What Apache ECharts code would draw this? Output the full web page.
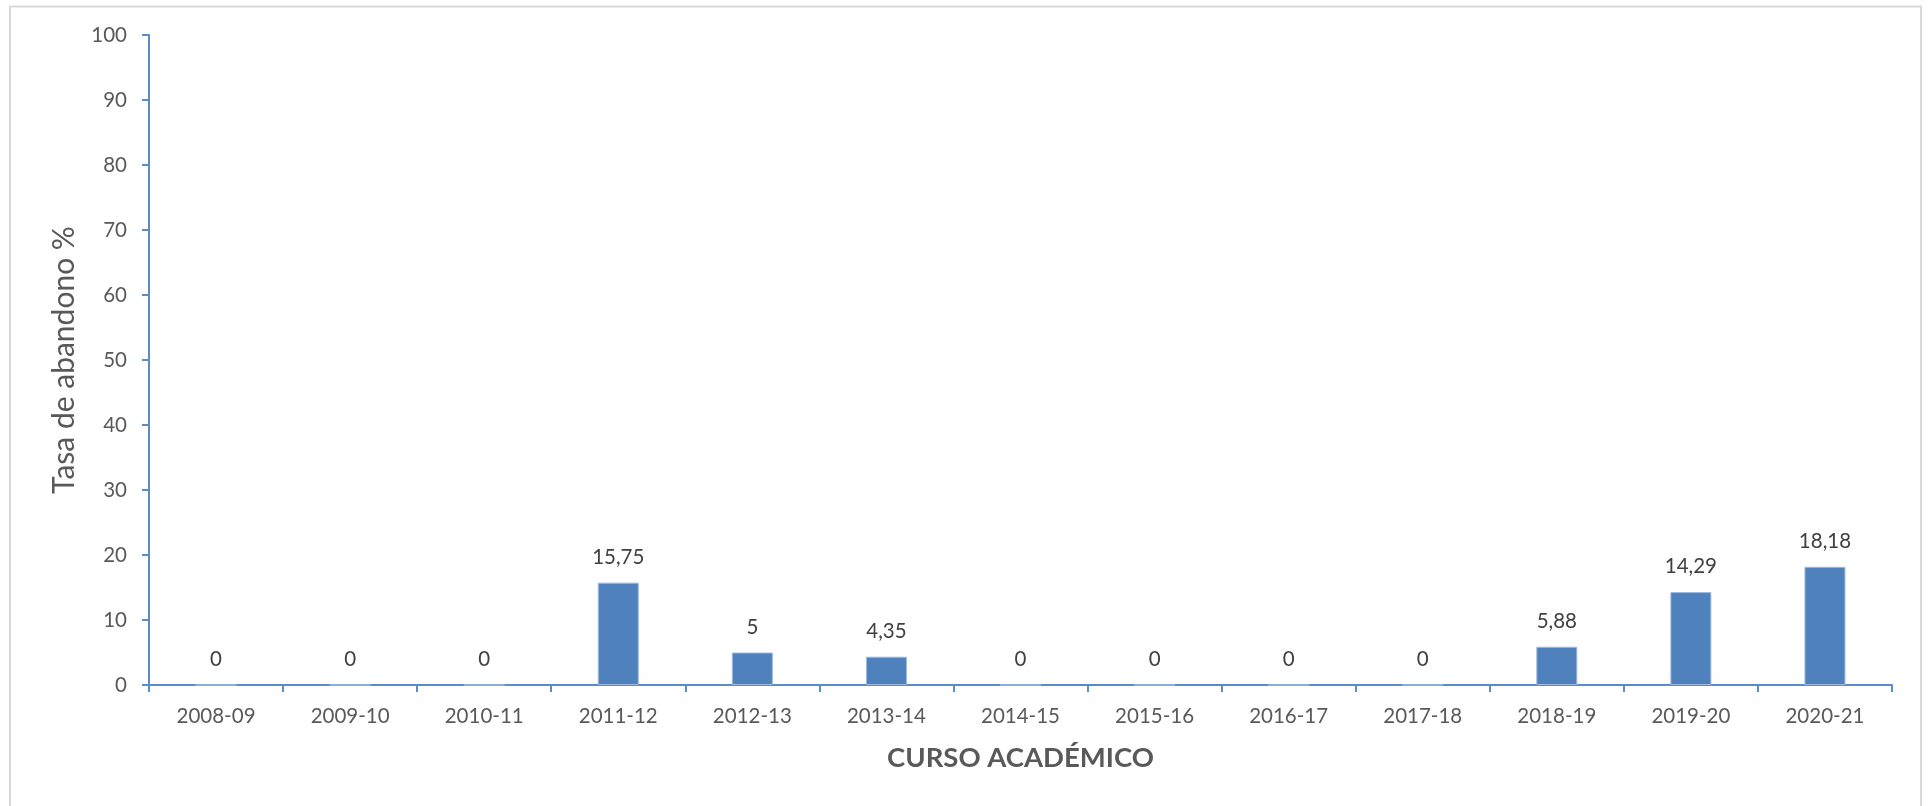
<!DOCTYPE html>
<html>
<head>
<meta charset="utf-8">
<script src="https://cdn.jsdelivr.net/npm/echarts@6/dist/echarts.min.js"></script>
<style>
html,body{margin:0;padding:0;background:#fff;}
#c{width:1930px;height:806px;}
</style>
</head>
<body>
<div id="c"></div>
<script>
const categories = ['2008-09','2009-10','2010-11','2011-12','2012-13','2013-14','2014-15','2015-16','2016-17','2017-18','2018-19','2019-20','2020-21'];
const values = [0, 0, 0, 15.75, 5, 4.35, 0, 0, 0, 0, 5.88, 14.29, 18.18];
const yTicks = [0, 10, 20, 30, 40, 50, 60, 70, 80, 90, 100];
const xTitle = 'CURSO ACADÉMICO';
const yTitle = 'Tasa de abandono %';

const FONT = 'Lato';
const chart = echarts.init(document.getElementById('c'), null, {renderer: 'canvas'});
chart.setOption({
  animation: false,
  backgroundColor: '#fff',
  graphic: [{
    type: 'rect',
    shape: {x: 10, y: 6.5, width: 1911, height: 820},
    style: {fill: 'none', stroke: '#D9D9D9', lineWidth: 2},
    silent: true, z: -1
  }],
  grid: {left: 149, right: 38, top: 35, bottom: 121, containLabel: false},
  xAxis: {
    type: 'category',
    data: categories,
    name: xTitle,
    nameLocation: 'middle',
    nameGap: 59,
    nameTextStyle: {fontFamily: FONT, fontSize: 27.5, fontWeight: 'bold', color: '#595959'},
    axisLine: {lineStyle: {color: '#5B8BCB', width: 2}},
    axisTick: {show: true, length: 7, lineStyle: {color: '#5B8BCB', width: 2}},
    axisLabel: {fontFamily: FONT, fontSize: 20.5, color: '#595959', margin: 21},
    splitLine: {show: false}
  },
  yAxis: {
    type: 'value',
    min: yTicks[0],
    max: yTicks[yTicks.length - 1],
    interval: 10,
    name: yTitle,
    nameLocation: 'middle',
    nameGap: 70,
    nameTextStyle: {fontFamily: FONT, fontSize: 30, color: '#595959'},
    axisLine: {show: true, lineStyle: {color: '#5B8BCB', width: 2}},
    axisTick: {show: true, length: 7, lineStyle: {color: '#5B8BCB', width: 2}},
    axisLabel: {fontFamily: FONT, fontSize: 20.5, color: '#595959', margin: 22},
    splitLine: {show: false}
  },
  series: [{
    type: 'bar',
    data: values,
    barWidth: 41,
    itemStyle: {color: '#4F81BD', borderColor: '#9DB9DF', borderWidth: 1},
    label: {
      show: true,
      position: 'top',
      distance: 15,
      fontFamily: FONT,
      fontSize: 20.5,
      color: '#404040',
      formatter: p => String(p.value).replace('.', ',')
    }
  }]
});
</script>
</body>
</html>
